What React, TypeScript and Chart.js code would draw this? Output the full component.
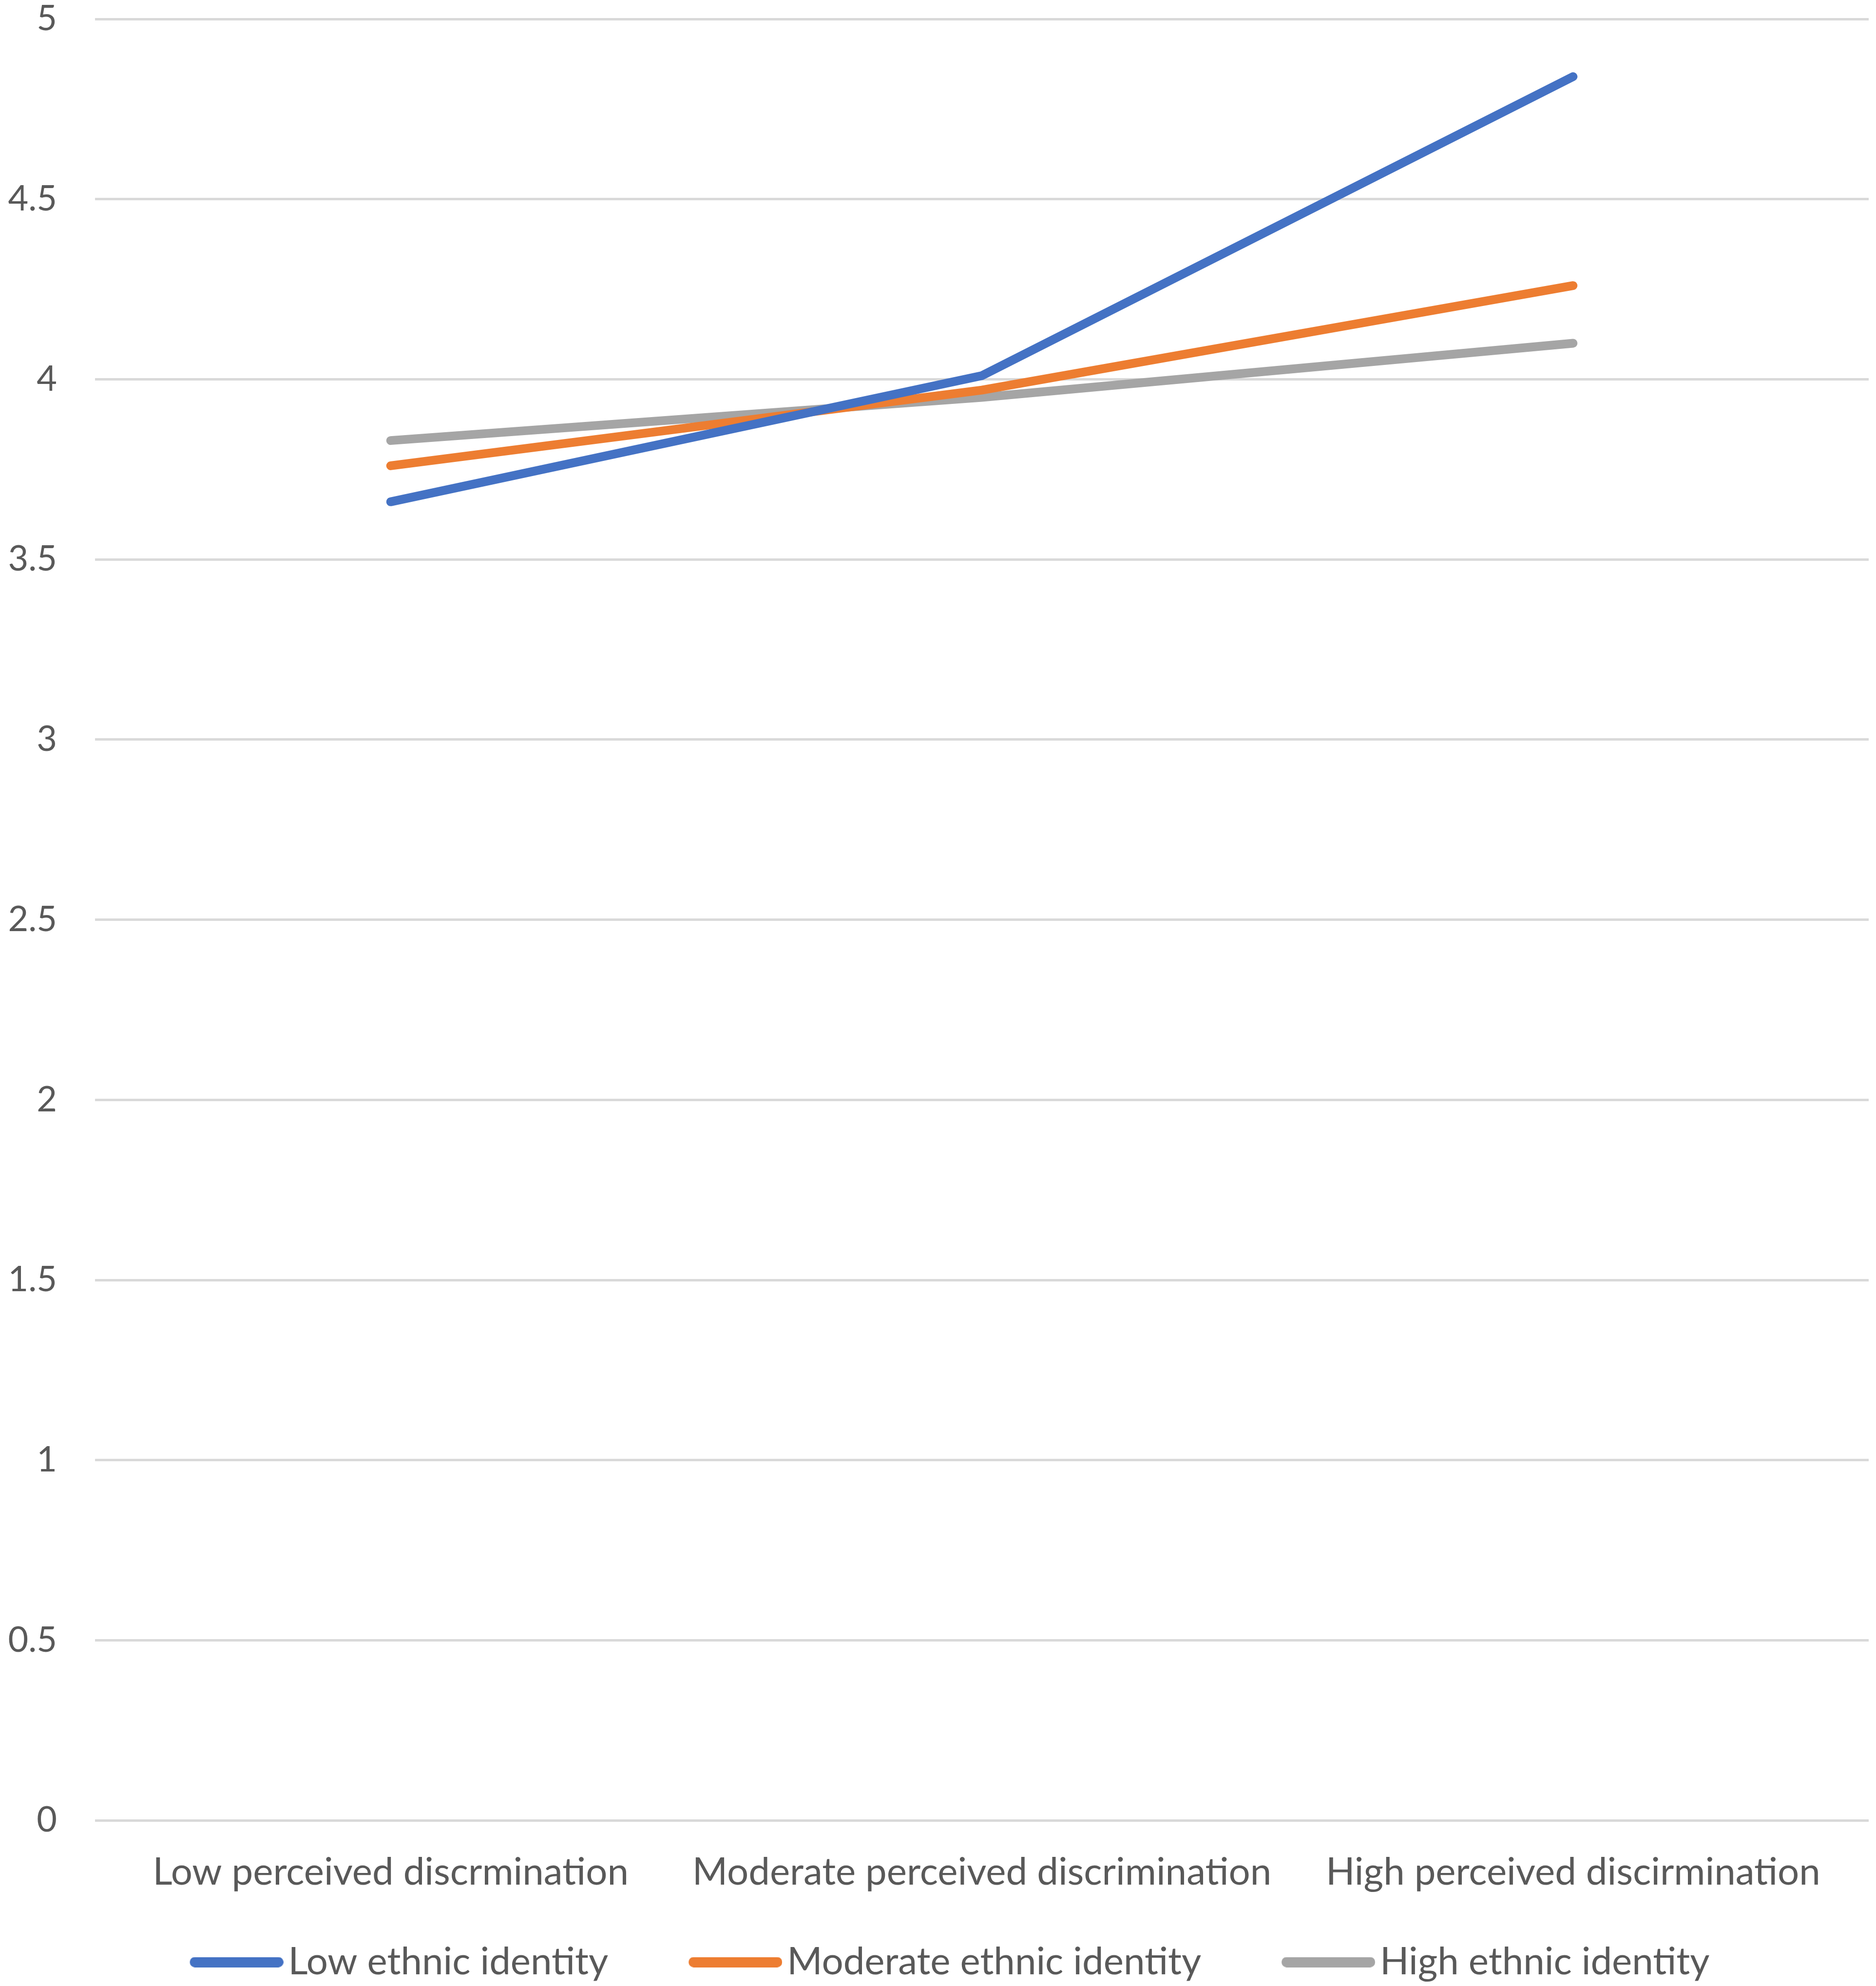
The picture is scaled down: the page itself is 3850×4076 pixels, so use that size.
import React, { useEffect, useRef } from 'react';
import Chart from 'chart.js/auto';

const categories = ['Low perceived discrmination', 'Moderate perceived discrimination', 'High perceived discirmination'];
const lowIdentity = [3.66, 4.01, 4.84];
const moderateIdentity = [3.76, 3.97, 4.26];
const highIdentity = [3.83, 3.95, 4.1];
const seriesNames = ['Low ethnic identity', 'Moderate ethnic identity', 'High ethnic identity'];

const FONT = 'Lato, "Open Sans", sans-serif';
const TEXT = '#595959';
const colors = ['#4472C4', '#ED7D31', '#A5A5A5'];

// legend swatch: short thick rounded bar, sitting at the right of a wider transparent image
const BAR_W = 192;
const SHIFT = 46;
function swatch(color: string) {
  const c = document.createElement('canvas');
  c.width = BAR_W + SHIFT * 2;
  c.height = 21;
  const ctx = c.getContext('2d')!;
  ctx.fillStyle = color;
  ctx.beginPath();
  ctx.roundRect(SHIFT * 2, 0, BAR_W, 21, 10);
  ctx.fill();
  return c;
}

export default function App() {
  const ref = useRef<HTMLCanvasElement>(null);
  useEffect(() => {
    if (!ref.current) return;
    const swatches = colors.map(swatch);
    const chart = new Chart(ref.current, {
      type: 'line',
      data: {
        labels: categories,
        datasets: [lowIdentity, moderateIdentity, highIdentity].map((d, i) => ({
          label: seriesNames[i],
          data: d,
          borderColor: colors[i],
          backgroundColor: colors[i],
          borderWidth: 18,
          borderCapStyle: 'round' as const,
          borderJoinStyle: 'round' as const,
          pointRadius: 0,
          tension: 0,
          fill: false,
        })),
      },
      options: {
        animation: false,
        responsive: true,
        maintainAspectRatio: false,
        devicePixelRatio: 1,
        layout: { padding: { top: 39, right: 15, bottom: 0, left: 0 } },
        plugins: {
          tooltip: { enabled: false },
          legend: {
            position: 'bottom',
            labels: {
              font: { family: FONT, size: 78 },
              color: TEXT,
              usePointStyle: true,
              pointStyleWidth: 134 + SHIFT * 2,
              boxHeight: 21,
              padding: 102,
              generateLabels: (c) =>
                Chart.defaults.plugins.legend.labels
                  .generateLabels(c)
                  .map((l, i) => ({ ...l, lineWidth: 0, pointStyle: swatches[i] })),
            },
          },
        },
        scales: {
          x: {
            offset: true,
            grid: { display: false, drawTicks: true, tickLength: 64 },
            border: { display: false },
            ticks: { font: { family: FONT, size: 78, lineHeight: 1.1 }, color: TEXT, padding: 0, maxRotation: 0 },
          },
          y: {
            min: 0,
            max: 5,
            afterFit: (s) => { s.width = 195; },
            grid: { color: '#D9D9D9', lineWidth: 5, drawTicks: true, tickLength: 78, tickColor: 'rgba(0,0,0,0)' },
            border: { display: false },
            ticks: {
              stepSize: 0.5,
              font: { family: FONT, size: 72, lineHeight: 1 },
              color: TEXT,
              padding: 0,
              callback: (v) => String(v),
            },
          },
        },
      },
    });
    return () => chart.destroy();
  }, []);
  return (
    <div style={{ position: 'absolute', left: 0, top: 0, width: 3850, height: 4076, background: '#fff' }}>
      <canvas ref={ref} />
    </div>
  );
}
